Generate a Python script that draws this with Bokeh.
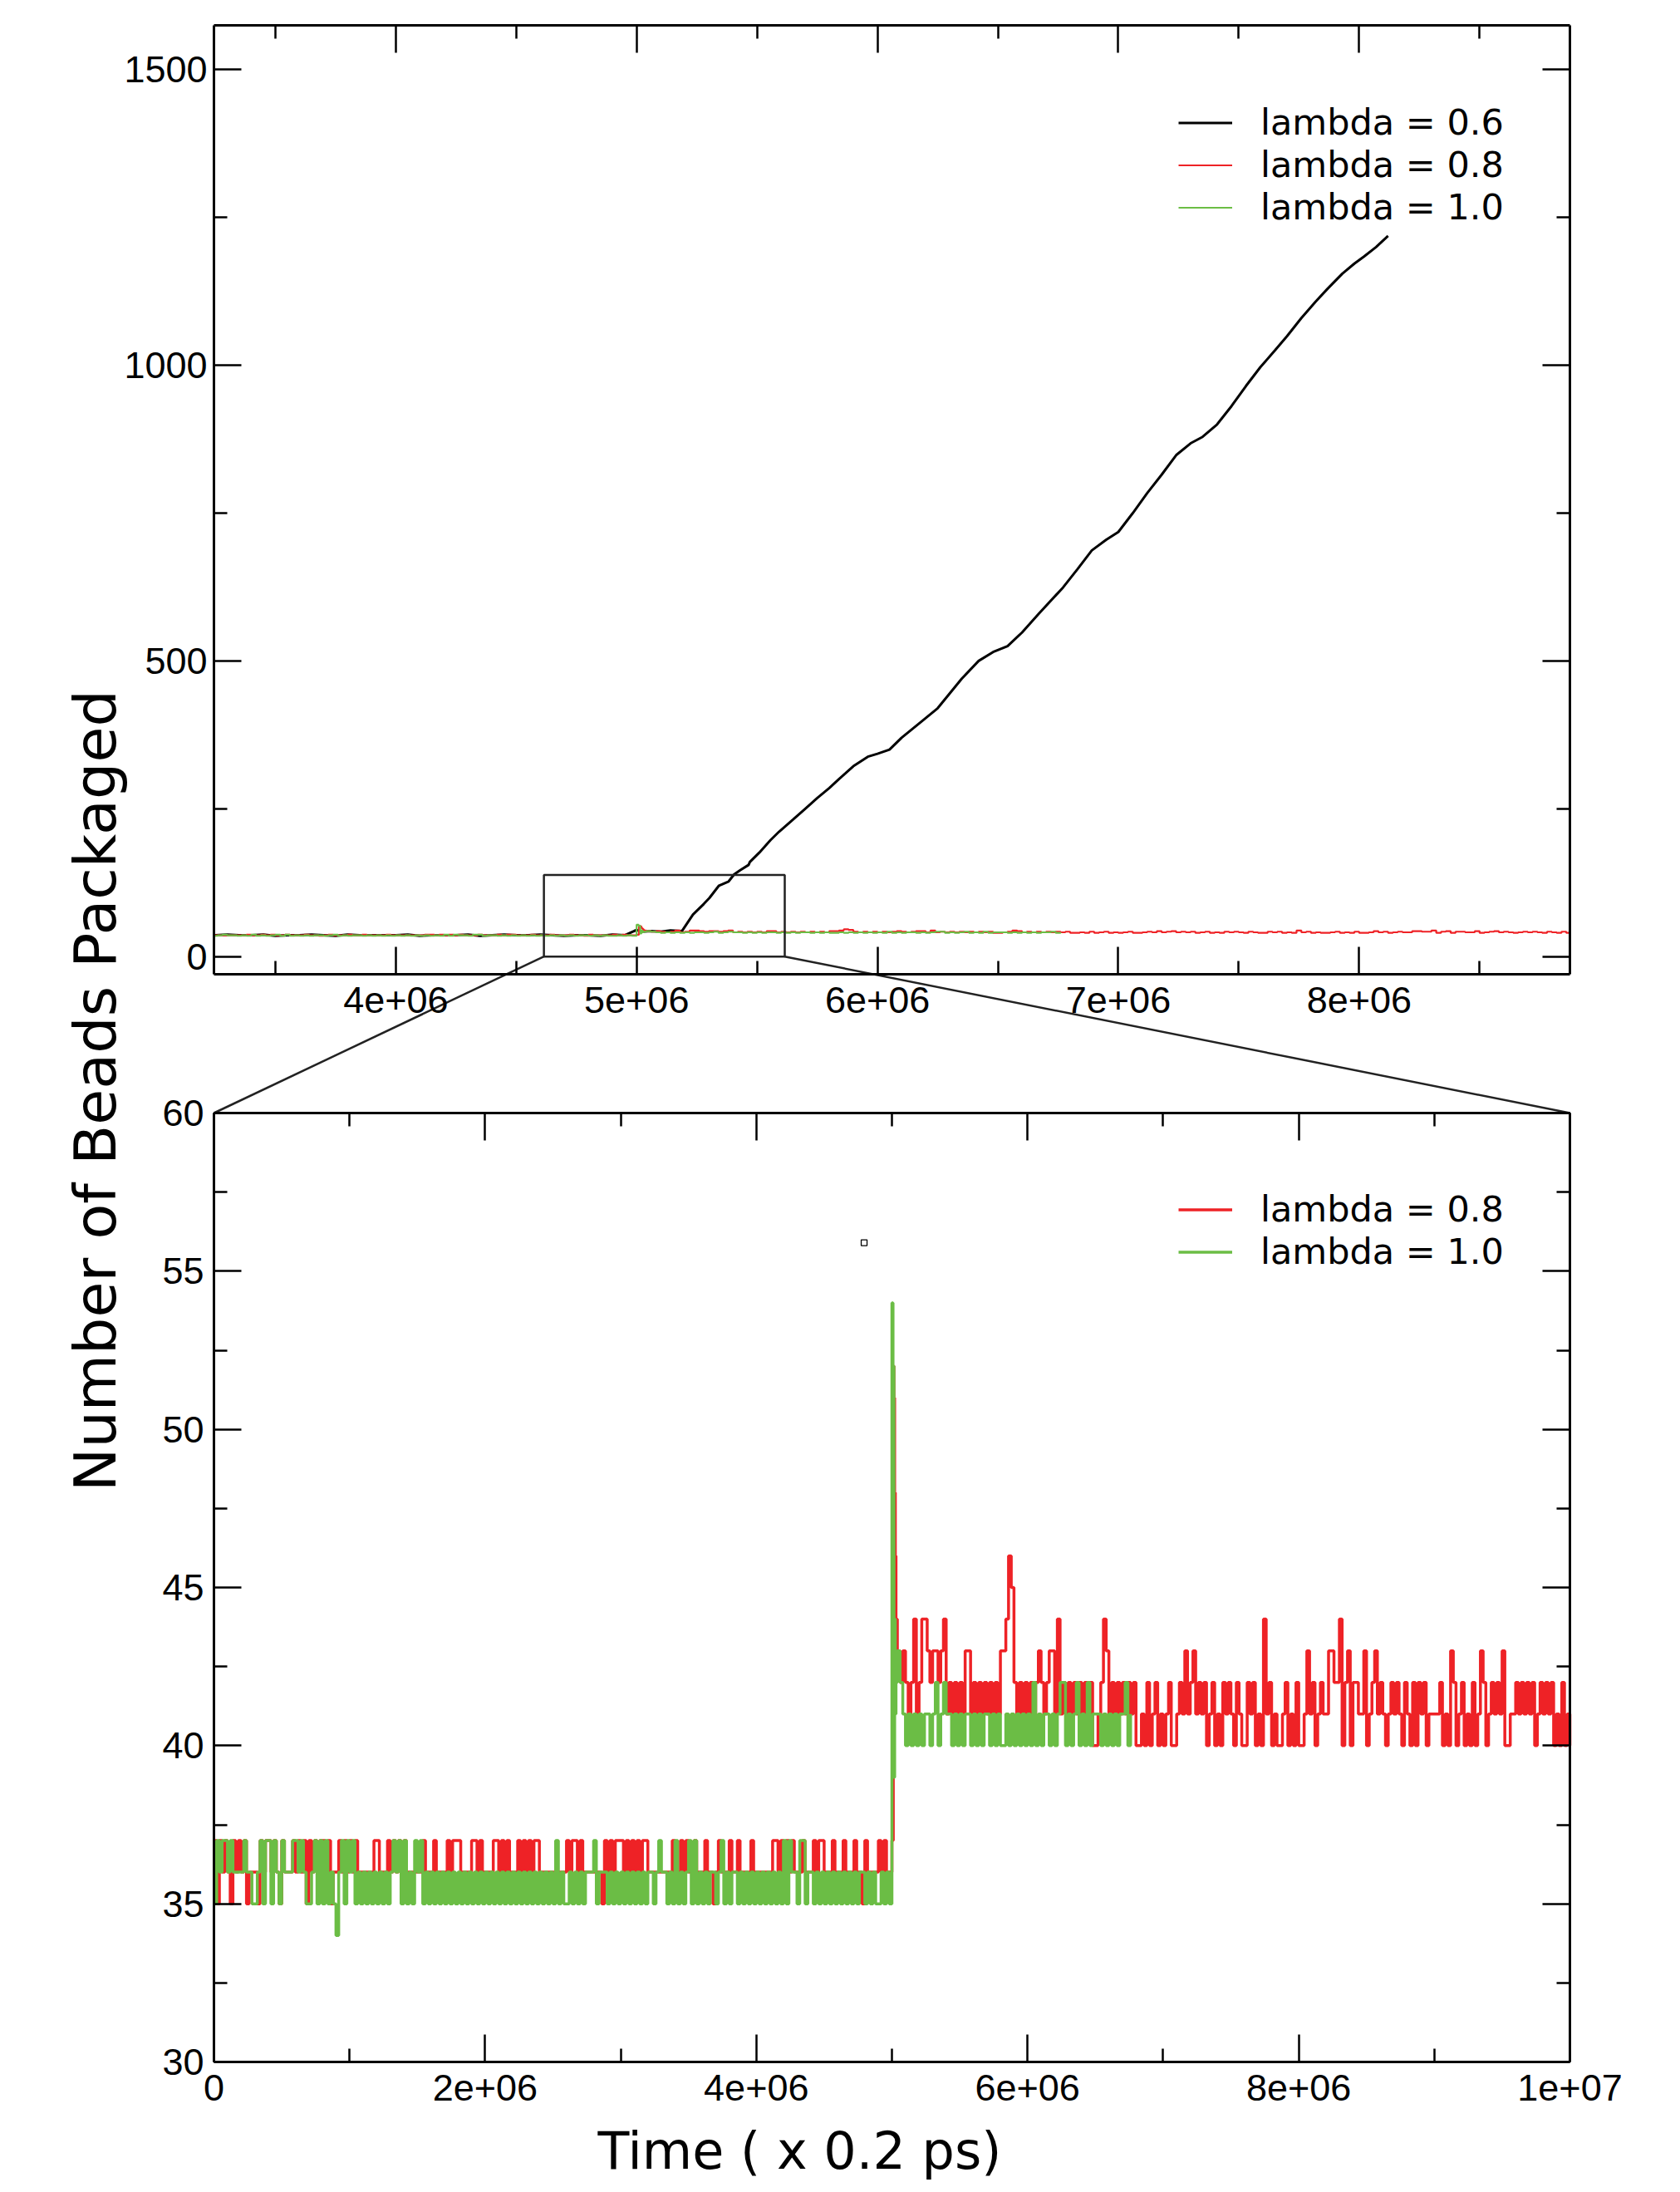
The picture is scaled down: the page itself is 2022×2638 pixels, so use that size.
import numpy as np
from bokeh.plotting import figure
from bokeh.models import (Range1d, LinearAxis, FixedTicker, CustomJSTickFormatter,
                          Legend, LegendItem, Label)
from bokeh.embed import file_html
from bokeh.resources import INLINE

# ======================= DATA =======================
STEP = 2e4              # sampling interval of the noisy traces
POST_START = 5.04e6     # first sample after the jump at t = 5e6

# lambda = 0.8 (red), t = 0 .. 4.98e6, value = 30 + digit
red_pre = ("7576765767" "6756665767" "7676576667" "6767576767" "7675667676"
           "7676666667" "7666767676" "7666666766" "6766667677" "7666677676"
           "6667767676" "6676767677" "6666666666" "7677676666" "6665767677"
           "7676767677" "6666666667" "6676766766" "6766567666" "7667666676"
           "6666667767" "6767666766" "6767766676" "6676667665" "7666676766")
# lambda = 1.0 (green), t = 0 .. 4.98e6, value = 30 + digit
green_pre = ("5767767666" "6766556757" "7576576667" "7676556757" "5756546757"
             "6756565656" "5656567675" "7565767565" "6565656565" "6565656565"
             "6565656565" "6565656565" "6565657565" "5656565666" "7566656565"
             "6565656565" "6656766565" "7565675756" "5656656756" "5665656565"
             "6565656565" "7576657756" "6565656565" "6565656566" "5656556565")

# the jump at 5e6
red_spike_t = [5.000e6, 5.010e6, 5.015e6, 5.020e6, 5.025e6, 5.030e6]
red_spike_v = [37, 52, 51, 48, 46, 44]
green_spike_t = [5.000e6, 5.008e6, 5.015e6, 5.020e6, 5.025e6, 5.030e6]
green_spike_v = [54, 52, 39, 44, 41, 42]

# after the jump, t = 5.04e6 + j*STEP, value = 40 + digit
red_post = ("3232124124" "4323323412" "1212133121" "2121212133" "4652121212"
            "1232123314" "1212121212" "1200124312" "1212121200" "1020120101"
            "2001213123" "1212012010" "2121021002" "1201041201" "0012010200"
            "1312012113" "3224023022" "1130123121" "0121210210" "2021201111"
            "2010320120" "1020132012" "1213001121" "2121201212" "120102010")
green_post = ("3210101010" "1101201211" "0101011010" "1011010100" "1010101010"
              "2010110101" "2201012010" "2011101010" "1011201")

# lambda = 0.6 (black): baseline every 5e4 (value = 30 + digit), then packaging
BLACK_STEP = 5e4
black_pre = ("6576656765" "6675667566" "5676657667" "6756676567" "6657666756"
             "7665676657" "6676567667" "5667657666" "6756667567" "6676566576")
black_t = [5.00e6, 5.02e6, 5.06e6, 5.10e6, 5.14e6, 5.188e6, 5.234e6, 5.279e6,
           5.302e6, 5.342e6, 5.382e6, 5.405e6, 5.43e6, 5.465e6, 5.47e6, 5.51e6,
           5.556e6, 5.591e6, 5.65e6, 5.70e6, 5.75e6, 5.80e6, 5.84e6, 5.90e6,
           5.96e6, 6.00e6, 6.05e6, 6.10e6, 6.19e6, 6.25e6, 6.30e6, 6.35e6,
           6.42e6, 6.48e6, 6.54e6, 6.60e6, 6.67e6, 6.77e6, 6.83e6, 6.89e6,
           6.95e6, 7.00e6, 7.06e6, 7.12e6, 7.18e6, 7.24e6, 7.30e6, 7.35e6,
           7.41e6, 7.47e6, 7.53e6, 7.59e6, 7.65e6, 7.70e6, 7.76e6, 7.82e6,
           7.87e6, 7.93e6, 7.98e6, 8.02e6, 8.07e6, 8.12e6]
black_v = [45, 42, 43, 42, 44, 43, 71, 89,
           99, 120, 127, 139, 146, 155, 160, 176,
           197, 211, 232, 250, 268, 285, 300, 322,
           338, 343, 350, 370, 400, 420, 445, 470,
           500, 515, 525, 548, 580, 624, 655, 687,
           705, 718, 750, 784, 815, 848, 868, 879,
           900, 931, 965, 997, 1025, 1049, 1080, 1108,
           1130, 1155, 1172, 1184, 1200, 1219]

# stray symbol in the lower panel
stray_x = [4.795e6]
stray_y = [55.9]

# inset box drawn on the upper panel (upper-panel data coords)
inset_x = [4.615e6, 5.615e6]
inset_y = [0, 138]

# axes / ticks
top_xlim = [3.245e6, 8.875e6]
top_ylim = [-30, 1575]
top_xticks = [4e6, 5e6, 6e6, 7e6, 8e6]
top_xminor = [3.5e6, 4.5e6, 5.5e6, 6.5e6, 7.5e6, 8.5e6]
top_yticks = [0, 500, 1000, 1500]
top_yminor = [250, 750, 1250]
bot_xlim = [0, 1e7]
bot_ylim = [30, 60]
bot_xticks = [0, 2e6, 4e6, 6e6, 8e6, 1e7]
bot_xminor = [1e6, 3e6, 5e6, 7e6, 9e6]
bot_yticks = [30, 35, 40, 45, 50, 55, 60]
bot_yminor = [32.5, 37.5, 42.5, 47.5, 52.5, 57.5]

labels = ["lambda = 0.6", "lambda = 0.8", "lambda = 1.0"]
RED = "#ee2226"
GREEN = "#6bbd45"

# ======================= BUILD SERIES =======================
def series(pre, spike_t, spike_v, post):
    v_pre = [30 + int(c) for c in pre]
    t_pre = list(np.arange(len(v_pre)) * STEP)
    v_post = [40 + int(c) for c in post]
    t_post = list(POST_START + np.arange(len(v_post)) * STEP)
    return t_pre + spike_t + t_post, v_pre + spike_v + v_post

red_x, red_y = series(red_pre, red_spike_t, red_spike_v, red_post)
green_x, green_y = series(green_pre, green_spike_t, green_spike_v, green_post)
bl_v = [30 + int(c) for c in black_pre]
black_x = list(np.arange(len(bl_v)) * BLACK_STEP) + black_t
black_y = bl_v + black_v


def window(xs, ys, lo, hi):
    """keep the part of a trace inside [lo, hi] (value held at the cut)"""
    ox, oy = [], []
    cur, before, after = ys[0], False, False
    for x, y in zip(xs, ys):
        if x < lo:
            cur, before = y, True
            continue
        if x > hi:
            after = True
            break
        if not ox and before and x > lo:
            ox.append(lo)
            oy.append(cur)
        ox.append(x)
        oy.append(y)
        cur = y
    if after and ox[-1] < hi:
        ox.append(hi)
        oy.append(cur)
    return ox, oy

# ======================= LAYOUT (page pixels) =======================
W, H = 2022, 2638
L, R = 257, 1889
TOP_T, TOP_B = 30, 1172
BOT_T, BOT_B = 1339, 2481


def lin(v_a, p_a, v_b, p_b):
    return lambda pix: v_a + (pix - p_a) * (v_b - v_a) / (p_b - p_a)

bx = lin(bot_xlim[0], L, bot_xlim[1], R)
by = lin(bot_ylim[0], BOT_B, bot_ylim[1], BOT_T)
tx = lin(top_xlim[0], L, top_xlim[1], R)
ty = lin(top_ylim[0], TOP_B, top_ylim[1], TOP_T)
tx_inv = lin(L, top_xlim[0], R, top_xlim[1])
ty_inv = lin(TOP_B, top_ylim[0], TOP_T, top_ylim[1])

p = figure(width=W, height=H, x_range=Range1d(bx(0), bx(W)), y_range=Range1d(by(H), by(0)),
           x_axis_type=None, y_axis_type=None, toolbar_location=None,
           output_backend="svg", min_border_left=0, min_border_right=0,
           min_border_top=0, min_border_bottom=0)
p.outline_line_color = None
p.background_fill_color = "white"
p.border_fill_color = "white"
p.extra_x_ranges = {"xtop": Range1d(tx(0), tx(W))}
p.extra_y_ranges = {"ytop": Range1d(ty(H), ty(0))}

TOPR = dict(x_range_name="xtop", y_range_name="ytop")

# ----- upper panel -----
bkx, bky = window(black_x, black_y, *top_xlim)
rtx, rty = window(red_x, red_y, *top_xlim)
gtx, gty = window(green_x, green_y, *top_xlim)
r_black = p.line(bkx, bky, line_color="black", line_width=3, **TOPR)
r_red_t = p.step(rtx, rty, mode="after", line_color=RED, line_width=2.2, **TOPR)
r_green_t = p.step(gtx, gty, mode="after", line_color=GREEN, line_width=2.2, **TOPR)
p.quad(left=[inset_x[0]], right=[inset_x[1]], bottom=[inset_y[0]], top=[inset_y[1]],
       fill_color=None, line_color="#222222", line_width=2.5, **TOPR)

# ----- lower panel -----
r_red_b = p.step(red_x, red_y, mode="after", line_color=RED, line_width=3.5)
r_green_b = p.step(green_x, green_y, mode="after", line_color=GREEN, line_width=3.5)
p.scatter(stray_x, stray_y, marker="square", size=7, fill_color=None,
          line_color="black", line_width=1.3)

# connectors between the inset box and the lower panel
c0 = (bx(tx_inv(inset_x[0])), by(ty_inv(inset_y[0])))
c1 = (bx(tx_inv(inset_x[1])), by(ty_inv(inset_y[0])))
p.segment(x0=[c0[0], c1[0]], y0=[c0[1], c1[1]],
          x1=[bot_xlim[0], bot_xlim[1]], y1=[bot_ylim[1], bot_ylim[1]],
          line_color="#222222", line_width=2.5)

# ----- axes (all fixed at the panel edges) -----
sci_fmt = CustomJSTickFormatter(code="""
    if (tick == 0) { return "0"; }
    const e = Math.floor(Math.log10(Math.abs(tick)) + 1e-9);
    const m = Math.round(tick / Math.pow(10, e));
    return m + "e+" + (e < 10 ? "0" + e : "" + e);
""")
blank_fmt = CustomJSTickFormatter(code="return '';")


def add_axis(side, ticks, minor, loc, bounds, show, xr="default", yr="default",
             fmt=None, standoff=7):
    ax = LinearAxis(ticker=FixedTicker(ticks=ticks, minor_ticks=minor),
                    fixed_location=loc, bounds=bounds,
                    x_range_name=xr, y_range_name=yr)
    if show:
        if fmt is not None:
            ax.formatter = fmt
        ax.major_label_text_font = "Liberation Sans"
        ax.major_label_text_font_size = "45px"
        ax.major_label_text_color = "black"
        ax.major_label_standoff = standoff
    else:
        ax.formatter = blank_fmt
        ax.major_label_standoff = 0
    ax.axis_line_color = "black"
    ax.axis_line_width = 3
    ax.major_tick_line_color = "black"
    ax.major_tick_line_width = 2.5
    ax.minor_tick_line_color = "black"
    ax.minor_tick_line_width = 2.5
    ax.major_tick_in = 33
    ax.major_tick_out = 0
    ax.minor_tick_in = 16
    ax.minor_tick_out = 0
    p.add_layout(ax, side)

# upper panel frame
add_axis("left", top_yticks, top_yminor, top_xlim[0], tuple(top_ylim), True, "xtop", "ytop",
         standoff=8)
add_axis("right", top_yticks, top_yminor, top_xlim[1], tuple(top_ylim), False, "xtop", "ytop")
add_axis("below", top_xticks, top_xminor, top_ylim[0], tuple(top_xlim), True, "xtop", "ytop",
         fmt=sci_fmt, standoff=15)
add_axis("above", top_xticks, top_xminor, top_ylim[1], tuple(top_xlim), False, "xtop", "ytop")
# lower panel frame
add_axis("left", bot_yticks, bot_yminor, bot_xlim[0], tuple(bot_ylim), True, standoff=12)
add_axis("right", bot_yticks, bot_yminor, bot_xlim[1], tuple(bot_ylim), False)
add_axis("below", bot_xticks, bot_xminor, bot_ylim[0], tuple(bot_xlim), True,
         fmt=sci_fmt, standoff=15)
add_axis("above", bot_xticks, bot_xminor, bot_ylim[1], tuple(bot_xlim), False)

# ----- legends -----
def make_legend(items, row_center_first):
    n = len(items)
    row_h = 51
    legend_bottom_page = row_center_first + (n - 1) * row_h + row_h / 2
    leg = Legend(items=items, location=(1418, H - legend_bottom_page),
                 orientation="vertical", glyph_width=65, glyph_height=row_h,
                 label_standoff=34, spacing=0, padding=0, margin=0,
                 label_text_font="DejaVu Sans", label_text_font_size="43px",
                 label_text_color="black", border_line_color=None,
                 background_fill_alpha=0)
    p.add_layout(leg, "center")

make_legend([LegendItem(label=labels[0], renderers=[r_black]),
             LegendItem(label=labels[1], renderers=[r_red_t]),
             LegendItem(label=labels[2], renderers=[r_green_t])], 147)
make_legend([LegendItem(label=labels[1], renderers=[r_red_b]),
             LegendItem(label=labels[2], renderers=[r_green_b])], 1455)

# ----- axis titles -----
p.add_layout(Label(x=bx(114), y=by(1312), text="Number of Beads Packaged", angle=np.pi / 2,
                   text_font="DejaVu Sans", text_font_size="70px",
                   text_align="center", text_baseline="middle", text_color="black"))
p.add_layout(Label(x=bx(962), y=by(2588), text="Time ( x 0.2 ps)",
                   text_font="DejaVu Sans", text_font_size="62px",
                   text_align="center", text_baseline="alphabetic", text_color="black"))

open("out.html", "w").write(file_html(p, INLINE))
